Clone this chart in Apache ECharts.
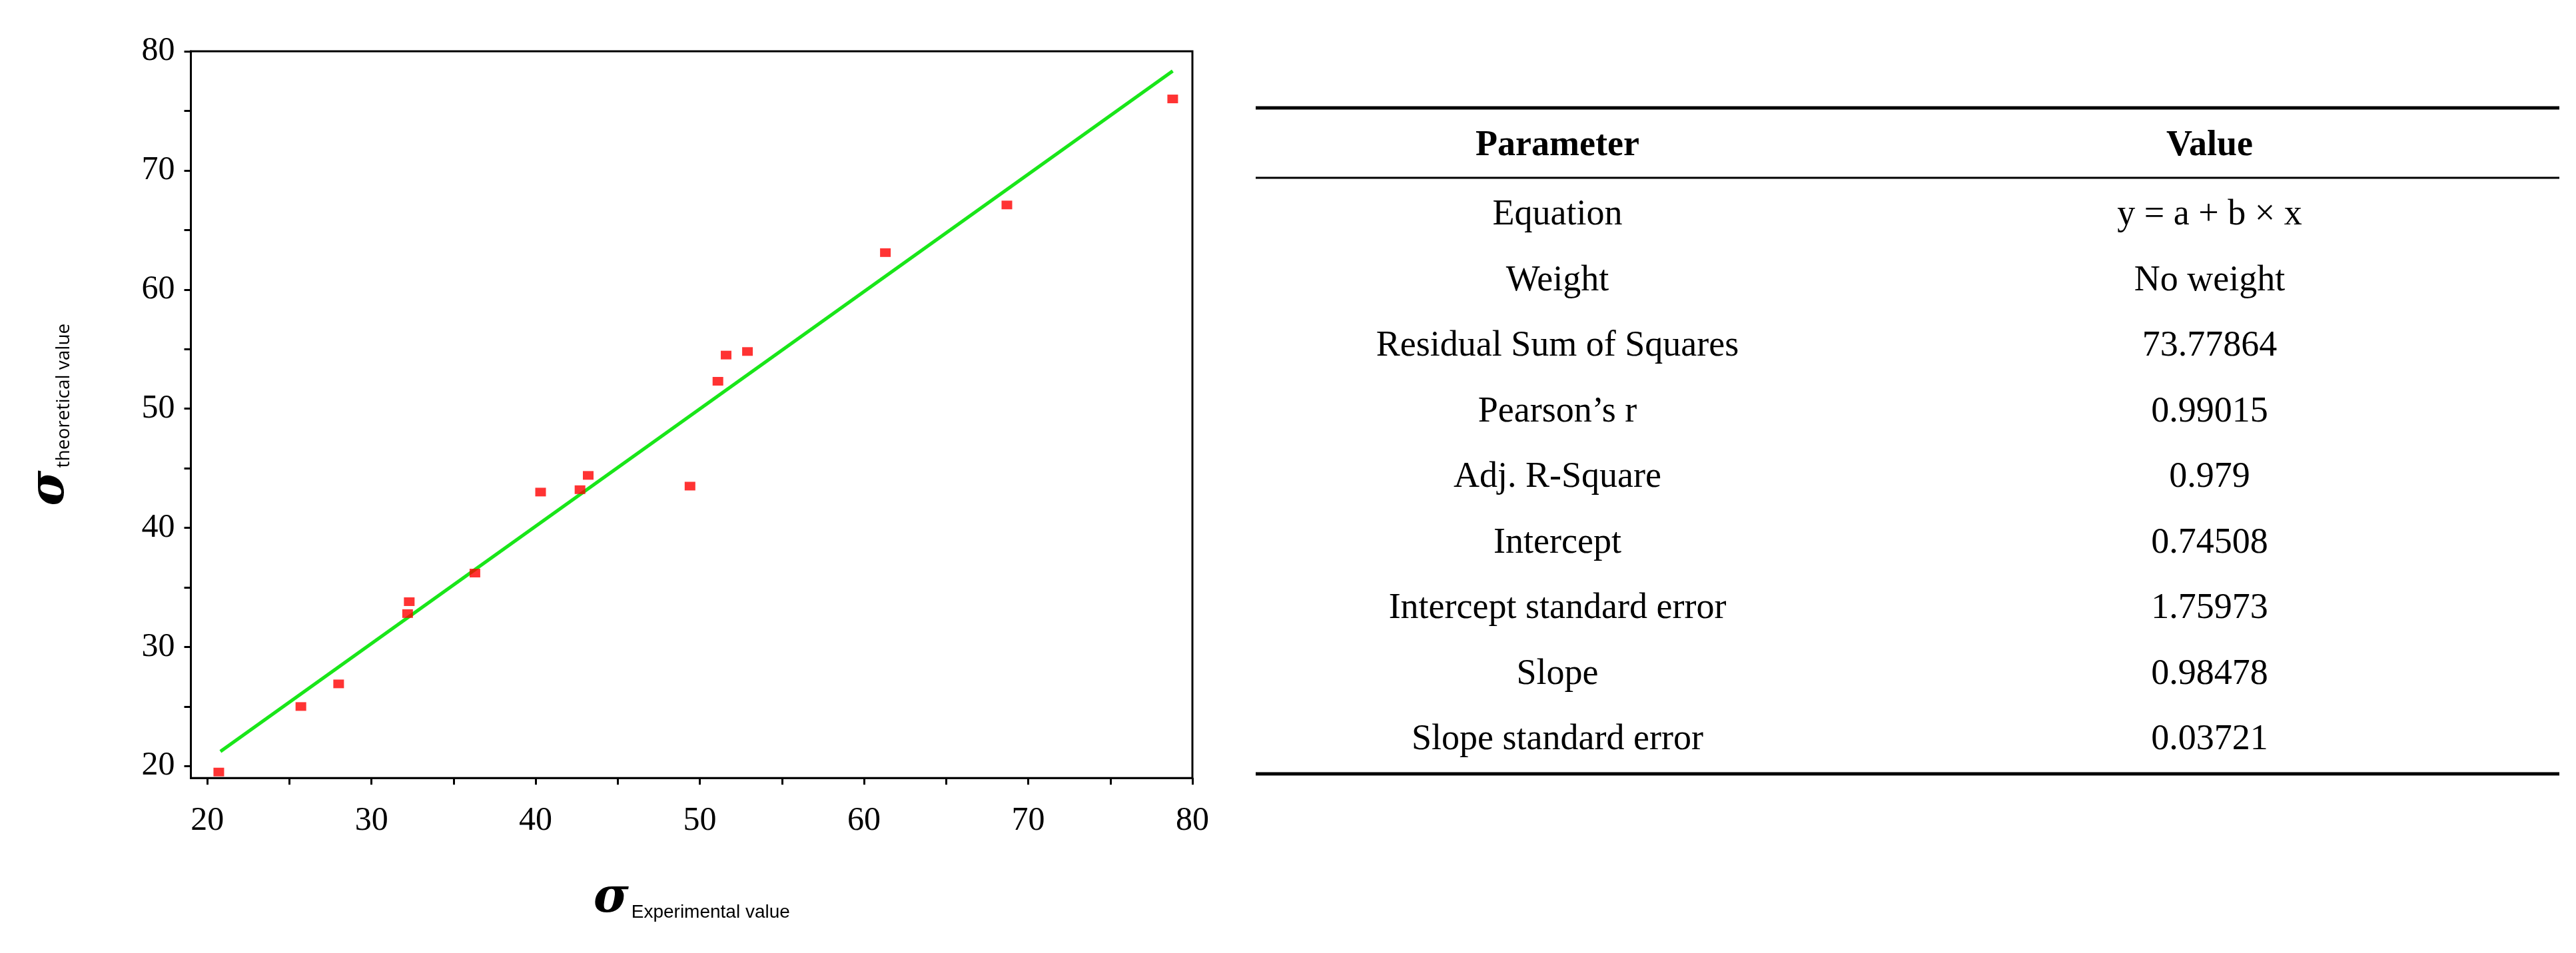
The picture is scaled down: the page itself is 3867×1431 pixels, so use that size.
<!DOCTYPE html>
<html>
<head>
    <title>Experimental vs theoretical</title>
    <script src="https://cdn.jsdelivr.net/npm/echarts/dist/echarts.min.js"></script>
</head>
<body style="margin:0;background:#fff;">
    <div id="chart" style="width:3867px;height:1431px;"></div>
    <script type="text/javascript">
        var expValues = [20.7, 25.7, 28.0, 32.2, 32.3, 36.3, 40.3, 42.7, 43.2, 49.4, 51.1, 51.6, 52.9, 61.3, 68.7, 78.8];
        var theoValues = [19.5, 25.0, 26.9, 32.8, 33.8, 36.2, 43.0, 43.2, 44.4, 43.5, 52.3, 54.5, 54.8, 63.1, 67.1, 76.0];
        var fitIntercept = 0.74508;
        var fitSlope = 0.98478;
        var fitRange = [20.8, 78.8];

        var tableHeader = ['Parameter', 'Value'];
        var paramNames = ['Equation', 'Weight', 'Residual Sum of Squares', 'Pearson\u2019s r', 'Adj. R-Square',
            'Intercept', 'Intercept standard error', 'Slope', 'Slope standard error'];
        var paramValues = ['y = a + b \u00d7 x', 'No weight', '73.77864', '0.99015', '0.979',
            '0.74508', '1.75973', '0.98478', '0.03721'];

        var points = expValues.map(function (x, i) { return [x, theoValues[i]]; });
        var fitLine = fitRange.map(function (x) { return [x, fitIntercept + fitSlope * x]; });

        var serif = 'Liberation Serif';
        var col1 = 2338, col2 = 3317, tblLeft = 1885, tblRight = 3842;
        var rowY0 = 323, rowStep = 98.5;

        var graphics = [
            { type: 'line', shape: { x1: tblLeft, y1: 162, x2: tblRight, y2: 162 }, style: { stroke: '#000', lineWidth: 5 } },
            { type: 'line', shape: { x1: tblLeft, y1: 267, x2: tblRight, y2: 267 }, style: { stroke: '#000', lineWidth: 3 } },
            { type: 'line', shape: { x1: tblLeft, y1: 1162, x2: tblRight, y2: 1162 }, style: { stroke: '#000', lineWidth: 5 } }
        ];
        tableHeader.forEach(function (h, j) {
            graphics.push({ type: 'text', x: j ? col2 : col1, y: 219,
                style: { text: h, font: 'bold 54px ' + serif, fill: '#000', textAlign: 'center', textVerticalAlign: 'middle' } });
        });
        paramNames.forEach(function (name, i) {
            var y = rowY0 + i * rowStep;
            graphics.push({ type: 'text', x: col1, y: y,
                style: { text: name, font: '54px ' + serif, fill: '#000', textAlign: 'center', textVerticalAlign: 'middle' } });
            graphics.push({ type: 'text', x: col2, y: y,
                style: { text: paramValues[i], font: '54px ' + serif, fill: '#000', textAlign: 'center', textVerticalAlign: 'middle' } });
        });

        var axisCommon = {
            type: 'value', min: 19, max: 80,
            splitLine: { show: false },
            axisLine: { show: true, lineStyle: { color: '#000', width: 3 } },
            axisTick: { show: true, length: 10, lineStyle: { color: '#000', width: 3 }, customValues: [20, 30, 40, 50, 60, 70, 80] },
            minorTick: { show: false },
            axisLabel: { fontFamily: serif, fontSize: 50, color: '#000', customValues: [20, 30, 40, 50, 60, 70, 80] },
            nameLocation: 'middle',
            nameTextStyle: {
                rich: {
                    s: { fontFamily: 'DejaVu Serif', fontStyle: 'italic', fontWeight: 'bold', fontSize: 72, color: '#000' },
                    sub: { fontFamily: 'Liberation Sans Narrow, Liberation Sans', fontSize: 28, color: '#000', padding: [40, 0, 0, 4] }
                }
            }
        };

        var chart = echarts.init(document.getElementById('chart'));
        chart.setOption({
            backgroundColor: '#fff',
            animation: false,
            grid: { left: 233, top: 77, width: 1557, height: 1135, show: true, borderColor: '#000', borderWidth: 3, containLabel: false },
            xAxis: Object.assign({}, axisCommon, {
                name: '{s|\u03c3}{sub|Experimental value}', nameGap: 95,
                axisTick: Object.assign({}, axisCommon.axisTick, { customValues: [20, 25, 30, 35, 40, 45, 50, 55, 60, 65, 70, 75, 80] }),
                axisLabel: Object.assign({}, axisCommon.axisLabel, { margin: 26 })
            }),
            yAxis: Object.assign({}, axisCommon, {
                name: '{s|\u03c3}{sub|theoretical value}', nameGap: 135,
                nameTextStyle: {
                    rich: {
                        s: axisCommon.nameTextStyle.rich.s,
                        sub: { fontFamily: 'Open Sans', fontSize: 28, color: '#000', padding: [40, 0, 0, 4] }
                    }
                },
                axisTick: Object.assign({}, axisCommon.axisTick, { customValues: [20, 25, 30, 35, 40, 45, 50, 55, 60, 65, 70, 75, 80] }),
                axisLabel: Object.assign({}, axisCommon.axisLabel, { margin: 24 })
            }),
            series: [
                {
                    type: 'line', data: fitLine, symbol: 'none',
                    lineStyle: { color: '#19e619', width: 5 }, z: 2
                },
                {
                    type: 'scatter', data: points, symbol: 'rect', symbolSize: [16, 13],
                    itemStyle: { color: '#ff0000' }, z: 3
                }
            ],
            graphic: graphics
        });
    </script>
</body>
</html>
